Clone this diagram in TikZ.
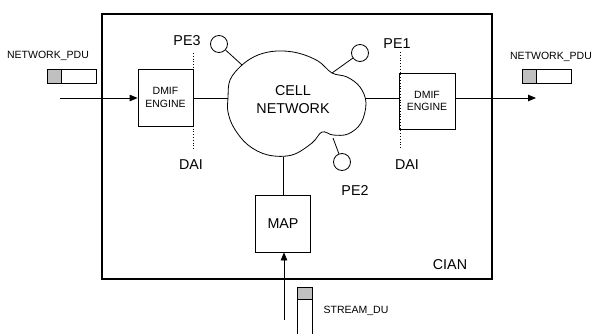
\documentclass[tikz,border=0pt]{standalone}
\usepackage{fontspec}
\setmainfont{Liberation Sans}
\usepackage{tikz}
\usetikzlibrary{arrows.meta}
\definecolor{cellgray}{RGB}{192,192,192}
\tikzstyle{engine} = [draw,line width=0.8pt,minimum width=55pt,minimum height=57pt,inner sep=0pt,align=center,
    font=\fontsize{10.5}{12.5}\selectfont
]
\tikzstyle{bigtext} = [inner sep=0pt,align=center,font=\fontsize{14.3}{18}\selectfont]
\tikzstyle{smalltext} = [inner sep=0pt,font=\fontsize{10.5}{12}\selectfont]
\tikzstyle{pe} = [draw,line width=0.8pt,circle,minimum size=17pt,inner sep=0pt]
\tikzstyle{wire} = [line width=0.8pt]
\tikzstyle{flow} = [line width=0.8pt,-{Triangle[length=8pt,width=6.5pt]}]
\newcommand{\pdubar}[2]{
    \draw[line width=0.8pt,fill=cellgray] (#1,#2) rectangle ++(14,14);
    \draw[line width=0.8pt] (#1+14,#2) rectangle ++(35,14);
}
\newcommand{\dailine}[3]{
    \draw[line width=0.8pt,dotted] (#1,#2) -- (#1,#3);
}

\begin{document}
\begin{tikzpicture}[x=1pt,y=-1pt]
    \useasboundingbox (0,0) rectangle (592,334);

    % CIAN frame
	\draw[line width=1.3pt] (102,14) rectangle (492,279);
	\node(cian) at (450,265) [bigtext] {CIAN};

	\node(engL) at (165.5,97.5) [engine] {DMIF\\ENGINE};
	\node(engR) at (427,101) [engine,minimum width=56pt,minimum height=56pt] {DMIF\\ENGINE};
	\node(map) at (283,223.5) [engine,font=\fontsize{14.3}{17}\selectfont] {MAP};

    	\draw[line width=0.8pt,fill=white] plot[smooth cycle,tension=0.6] coordinates {
    	    (228,98) (230,80) (242,65) (258,55) (277,51) (298,53) (318,61) (332,73)
    	    (347,77) (360,87) (366,103) (361,123) (348,134) (333,135) (322,132)
    	    (312,143) (292,155) (268,155) (248,145) (234,128) (228,112)
    	};
    	\node(cell) at (293,100) [bigtext] {CELL\\NETWORK};
    	\coordinate (cellW) at (228,98);
    	\coordinate (cellE) at (366,98);
    	\coordinate (cellS) at (283,157);
    	\coordinate (cellNW) at (242,65);
    	\coordinate (cellNE) at (332,73);
    	\coordinate (cellSE) at (333,138);

    	\node(pe3) at (219,44) [pe] {};
    	\node(pe1) at (360,53) [pe] {};
    	\node(pe2) at (342,162) [pe] {};
    	\draw[wire] (cellNW) -- (pe3);
    	\draw[wire] (cellNE) -- (pe1);
    	\draw[wire] (cellSE) -- (pe2);

    	\node(pe3txt) at (187,41) [bigtext] {PE3};
    	\node(pe1txt) at (397,44) [bigtext] {PE1};
    	\node(pe2txt) at (355,191) [bigtext] {PE2};
    	\node(daiL) at (191,165) [bigtext] {DAI};
    	\node(daiR) at (407,165) [bigtext] {DAI};
    	\dailine{193}{53}{149}
    	\dailine{400}{52}{149}

    	\draw[wire] (engL.east |- cellW) -- (cellW);
    	\draw[wire] (cellE) -- (cellE -| engR.west);
    	\draw[wire] (cellS) -- (map.north);

	% network pdu in and out
	\node(pduL) at (48,56) [smalltext] {NETWORK\_PDU};
	\pdubar{47}{69}
	\coordinate (inL) at (60,98);
	\draw[flow] (inL) -- (inL -| engL.west);

	\node(pduR) at (551,57) [smalltext] {NETWORK\_PDU};
	\pdubar{522}{69}
	\coordinate (outR) at (536,98);
	\draw[flow] (outR -| engR.east) -- (outR);

	% stream du
	\node(stream) at (356,311) [smalltext] {STREAM\_DU};
	\draw[line width=0.8pt,fill=cellgray] (297,287) rectangle (312,299);
	\draw[line width=0.8pt] (297,336) -- (297,299) -- (312,299) -- (312,336);
	\coordinate (inS) at (284,320);
	\draw[flow] (inS) -- (inS |- map.south);

\end{tikzpicture}
\end{document}
